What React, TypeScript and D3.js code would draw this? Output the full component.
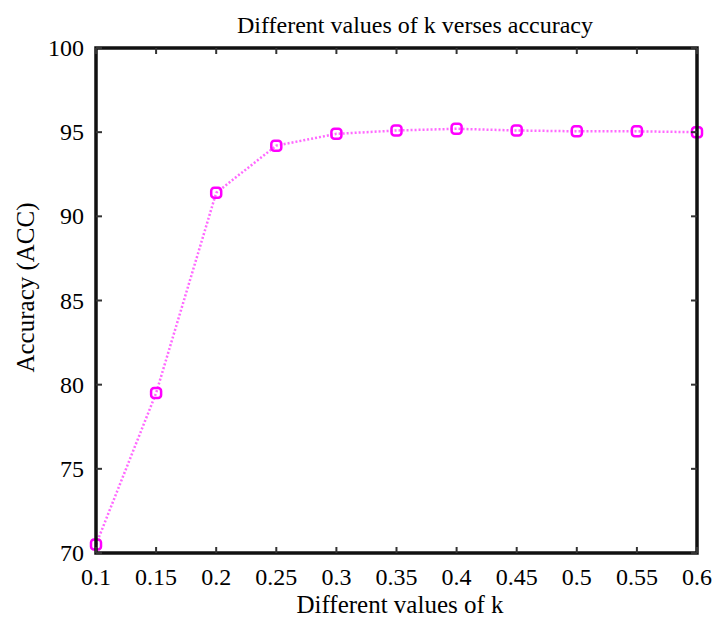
import React, { useEffect, useRef } from 'react';
import * as d3 from 'd3';

const kValues = [0.1, 0.15, 0.2, 0.25, 0.3, 0.35, 0.4, 0.45, 0.5, 0.55, 0.6];
const accuracy = [70.5, 79.5, 91.4, 94.2, 94.9, 95.1, 95.2, 95.1, 95.05, 95.05, 95.0];
const xTickLabels = ['0.1', '0.15', '0.2', '0.25', '0.3', '0.35', '0.4', '0.45', '0.5', '0.55', '0.6'];
const yTicks = [70, 75, 80, 85, 90, 95, 100];

export default function App() {
  const svgRef = useRef<SVGSVGElement>(null);

  useEffect(() => {
    document.body.style.margin = '0';
    if (!svgRef.current) return;

    const width = 712;
    const height = 619;
    const margin = { top: 48, right: 15, bottom: 66, left: 96 };
    const font = "'Liberation Serif', 'DejaVu Serif', serif";

    const svg = d3.select(svgRef.current);
    svg.selectAll('*').remove();
    svg.attr('width', width).attr('height', height);

    svg.append('rect').attr('width', width).attr('height', height).attr('fill', '#fff');

    const x = d3.scaleLinear().domain([0.1, 0.6]).range([margin.left, width - margin.right]);
    const y = d3.scaleLinear().domain([70, 100]).range([height - margin.bottom, margin.top]);

    // line (dotted magenta)
    const line = d3.line<number>()
      .x((_, i) => x(kValues[i]))
      .y(d => y(d));

    svg.append('path')
      .datum(accuracy)
      .attr('fill', 'none')
      .attr('stroke', '#ff44ff')
      .attr('stroke-width', 2.5)
      .attr('stroke-dasharray', '2,2')
      .attr('opacity', 0.8)
      .attr('d', line);

    // markers
    svg.selectAll('.pt')
      .data(accuracy)
      .join('rect')
      .attr('class', 'pt')
      .attr('x', (_, i) => x(kValues[i]) - 5)
      .attr('y', d => y(d) - 5)
      .attr('width', 10)
      .attr('height', 10)
      .attr('rx', 3)
      .attr('fill', 'none')
      .attr('stroke', '#ff00ff')
      .attr('stroke-width', 2.5);

    // frame
    const x0 = x(0.1), x1 = x(0.6), y0 = y(70), y1 = y(100);
    svg.append('rect')
      .attr('x', x0).attr('y', y1)
      .attr('width', x1 - x0).attr('height', y0 - y1)
      .attr('fill', 'none')
      .attr('stroke', '#111')
      .attr('stroke-width', 3.5);

    // ticks, inward
    kValues.forEach(k => {
      svg.append('line')
        .attr('x1', x(k)).attr('x2', x(k))
        .attr('y1', y0).attr('y2', y0 - 6)
        .attr('stroke', '#333').attr('stroke-width', 2);
      svg.append('line')
        .attr('x1', x(k)).attr('x2', x(k))
        .attr('y1', y1).attr('y2', y1 + 6)
        .attr('stroke', '#333').attr('stroke-width', 2);
    });
    yTicks.forEach(t => {
      svg.append('line')
        .attr('x1', x0).attr('x2', x0 + 6)
        .attr('y1', y(t)).attr('y2', y(t))
        .attr('stroke', '#333').attr('stroke-width', 2);
      svg.append('line')
        .attr('x1', x1).attr('x2', x1 - 6)
        .attr('y1', y(t)).attr('y2', y(t))
        .attr('stroke', '#333').attr('stroke-width', 2);
    });

    // tick labels
    svg.selectAll('.xl')
      .data(xTickLabels)
      .join('text')
      .attr('x', (_, i) => x(kValues[i]))
      .attr('y', y0 + 32)
      .attr('text-anchor', 'middle')
      .attr('font-family', font)
      .attr('font-size', 24)
      .text(d => d);

    svg.selectAll('.yl')
      .data(yTicks)
      .join('text')
      .attr('x', x0 - 12)
      .attr('y', d => y(d) + 8)
      .attr('text-anchor', 'end')
      .attr('font-family', font)
      .attr('font-size', 24)
      .text(d => d);

    svg.append('text')
      .attr('x', 415).attr('y', 33)
      .attr('text-anchor', 'middle')
      .attr('font-family', font)
      .attr('font-size', 24)
      .text('Different values of k verses accuracy');

    svg.append('text')
      .attr('x', 400).attr('y', 613)
      .attr('text-anchor', 'middle')
      .attr('font-family', font)
      .attr('font-size', 25)
      .text('Different values of k');

    svg.append('text')
      .attr('transform', `translate(34,${(y0 + y1) / 2 - 13}) rotate(-90)`)
      .attr('text-anchor', 'middle')
      .attr('font-family', font)
      .attr('font-size', 25)
      .text('Accuracy (ACC)');
  }, []);

  return <svg ref={svgRef} style={{ display: 'block' }}></svg>;
}
